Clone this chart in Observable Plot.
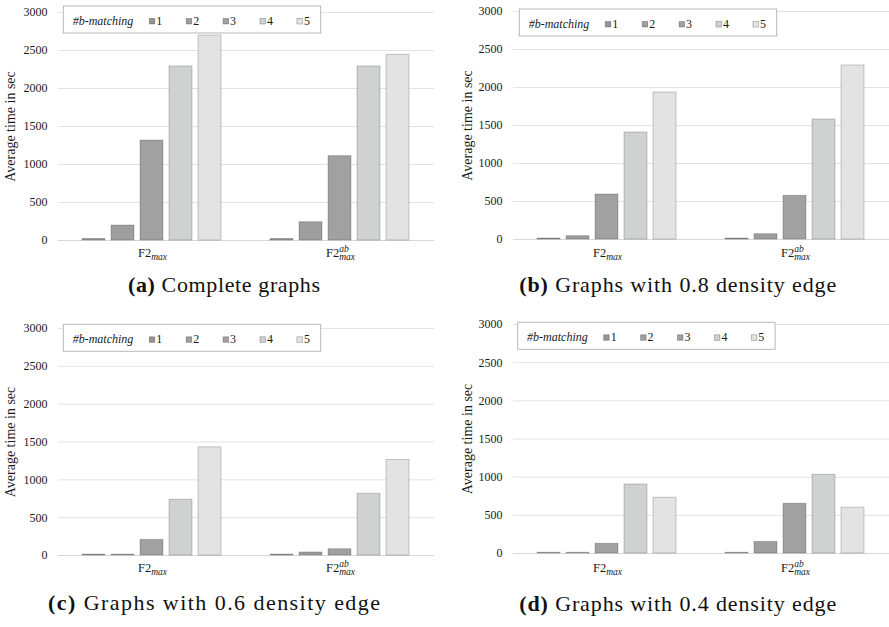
<!DOCTYPE html>
<html><head><meta charset="utf-8">
<script src="https://cdn.jsdelivr.net/npm/d3@7"></script>
<script src="https://cdn.jsdelivr.net/npm/@observablehq/plot@0.6"></script>
<style>
html,body{margin:0;padding:0;background:#fff;overflow:hidden}
#root{position:relative;width:889px;height:627px;overflow:hidden;font-family:'Liberation Serif',serif}
#root > svg{position:absolute}
</style></head><body><div id="root"></div>
<script>
// ---- data ----
const groups = ["F2max", "F2abmax"];
const series = ["1", "2", "3", "4", "5"];
const seriesFill = ["#949494", "#9e9e9e", "#a1a1a1", "#d0d2d2", "#e3e3e3"];
const yTicks = [0, 500, 1000, 1500, 2000, 2500, 3000];
const legendTitle = "#b-matching";
const yLabel = "Average time in sec";

const a_F2max   = [20, 197, 1315, 2290, 2697];
const a_F2abmax = [20, 241, 1110, 2290, 2443];
const b_F2max   = [13, 44, 592, 1408, 1934];
const b_F2abmax = [13, 70, 575, 1579, 2290];
const c_F2max   = [12, 12, 206, 737, 1430];
const c_F2abmax = [12, 40, 83, 816, 1263];
const d_F2max   = [10, 10, 127, 904, 730];
const d_F2abmax = [10, 152, 652, 1030, 600];

const captionLetters = ["(a)", "(b)", "(c)", "(d)"];
const captionTexts = ["Complete graphs", "Graphs with 0.8 density edge", "Graphs with 0.6 density edge", "Graphs with 0.4 density edge"];
const panelValues = [[a_F2max, a_F2abmax], [b_F2max, b_F2abmax], [c_F2max, c_F2abmax], [d_F2max, d_F2abmax]];

// ---- layout ----
const layout = [
  {left: 0,   top: 0,   width: 444, height: 275, ml: 58, mr: 10, mt: 12, mb: 35, fxPad: 8,  lo: 53, legend: [63.3, 6],     cap: [224, 292, 192]},
  {left: 444, top: 0,   width: 445, height: 275, ml: 69, mr: 0,  mt: 11, mb: 36, fxPad: 9,  lo: 51, legend: [519.3, 9],    cap: [677.7, 292, 317]},
  {left: 0,   top: 315, width: 444, height: 275, ml: 58, mr: 10, mt: 13, mb: 35, fxPad: 8,  lo: 53, legend: [63.3, 324.3], cap: [214, 610, 332]},
  {left: 444, top: 315, width: 445, height: 275, ml: 69, mr: 0,  mt: 9,  mb: 37, fxPad: 10, lo: 51, legend: [517.7, 322.3], cap: [677.7, 610.5, 317]}
];

const ns = "http://www.w3.org/2000/svg";
const root = document.getElementById("root");
const serif = "'Liberation Serif', serif";

layout.forEach((L, pi) => {
  const rows = [];
  groups.forEach((g, gi) => series.forEach((s, si) => rows.push({group: g, series: s, value: panelValues[pi][gi][si]})));
  const chart = Plot.plot({
    width: L.width, height: L.height,
    marginLeft: L.ml, marginRight: L.mr, marginTop: L.mt, marginBottom: L.mb,
    style: {fontFamily: serif, fontSize: "12px", background: "transparent", color: "#1a1a1a", overflow: "visible"},
    fx: {domain: groups, padding: 0, label: null, axis: "bottom", tickSize: 0, tickPadding: L.fxPad},
    x: {domain: series, paddingInner: 0.2, paddingOuter: 0.84, axis: null},
    y: {domain: [0, 3000], ticks: yTicks, tickFormat: d => String(d), tickSize: 0, tickPadding: 11, label: yLabel, labelAnchor: "center", labelArrow: "none", labelOffset: L.lo},
    color: {domain: series, range: seriesFill},
    marks: [
      Plot.gridY(yTicks, {stroke: "#e3e3e3", strokeOpacity: 1}),
      Plot.ruleY([0], {stroke: "#d8d8d8"}),
      Plot.barY(rows, {fx: "group", x: "series", y: "value", fill: "series", stroke: "#000", strokeOpacity: 0.2, strokeWidth: 1})
    ]
  });
  chart.style.left = L.left + "px";
  chart.style.top = L.top + "px";
  root.appendChild(chart);

  chart.querySelectorAll('g[aria-label="y-axis label"] text').forEach(t => t.style.fontSize = "14px");

  chart.querySelectorAll('g[aria-label="fx-axis tick label"] text').forEach(t => {
    const s = t.textContent;
    t.textContent = "";
    t.style.fontSize = "12.5px";
    const base = document.createElementNS(ns, "tspan");
    base.textContent = "F2";
    t.appendChild(base);
    if (s === "F2max") {
      const sub = document.createElementNS(ns, "tspan");
      sub.textContent = "max";
      sub.setAttribute("dy", "3");
      sub.setAttribute("font-style", "italic");
      sub.setAttribute("font-size", "9.5px");
      t.appendChild(sub);
    } else {
      const sup = document.createElementNS(ns, "tspan");
      sup.textContent = "ab";
      sup.setAttribute("dy", "-5.5");
      sup.setAttribute("font-style", "italic");
      sup.setAttribute("font-size", "9.5px");
      t.appendChild(sup);
      const w = sup.getComputedTextLength();
      const sub = document.createElementNS(ns, "tspan");
      sub.textContent = "max";
      sub.setAttribute("dx", String(-w));
      sub.setAttribute("dy", "8.5");
      sub.setAttribute("font-style", "italic");
      sub.setAttribute("font-size", "9.5px");
      t.appendChild(sub);
    }
  });
});

// ---- overlay: legends and captions ----
const overlay = d3.select(root).append("svg")
  .attr("width", 889).attr("height", 627)
  .style("left", "0px").style("top", "0px")
  .style("font-family", serif);

layout.forEach((L, pi) => {
  const [lx, ly] = L.legend;
  const g = overlay.append("g").attr("transform", `translate(${lx},${ly})`);
  g.append("rect").attr("x", 0).attr("y", 0).attr("width", 257.4).attr("height", 27)
    .attr("fill", "#fff").attr("stroke", "#b8b8b8").attr("stroke-width", 1);
  g.append("text").attr("x", 9.4).attr("y", 18.5).attr("font-style", "italic").attr("font-size", "12px")
    .attr("fill", "#1a1a1a").text(legendTitle);
  series.forEach((s, i) => {
    const sx = 86 + 36.9 * i;
    g.append("rect").attr("x", sx).attr("y", 12.5).attr("width", 5.5).attr("height", 5.5)
      .attr("fill", seriesFill[i]).attr("stroke", "#000").attr("stroke-opacity", 0.3).attr("stroke-width", 0.8);
    g.append("text").attr("x", sx + 7).attr("y", 18.5).attr("font-size", "12px").attr("fill", "#1a1a1a").text(s);
  });

  const [cx, cy, cw] = L.cap;
  const t = overlay.append("text").attr("x", cx).attr("y", cy).attr("text-anchor", "middle")
    .attr("font-size", "22px").attr("fill", "#111").style("white-space", "pre")
    .attr("textLength", cw).attr("lengthAdjust", "spacing");
  t.append("tspan").attr("font-weight", "bold").text(captionLetters[pi]);
  t.append("tspan").text(" " + captionTexts[pi]);
});
</script>
</body></html>
